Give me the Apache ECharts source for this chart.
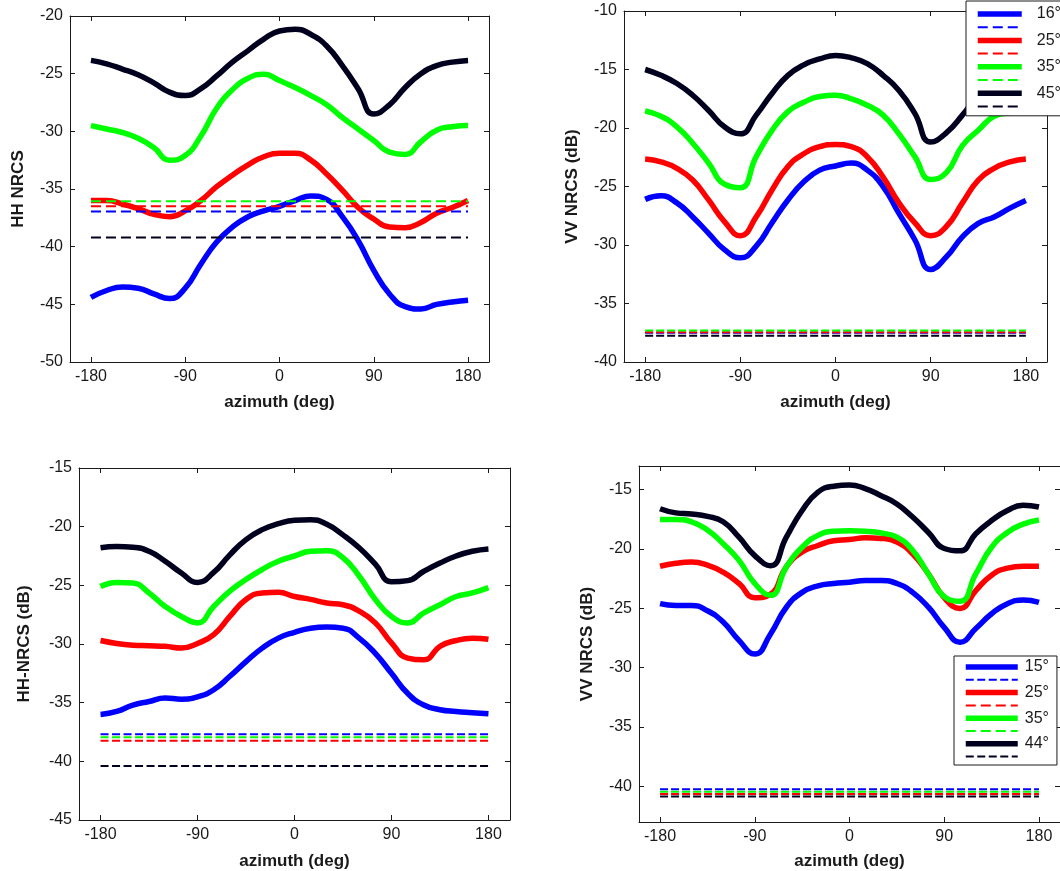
<!DOCTYPE html>
<html>
<head>
<meta charset="utf-8">
<script src="https://cdn.jsdelivr.net/npm/echarts@6/dist/echarts.min.js"></script>
<style>
* {margin: 0; padding: 0;}
#main {width: 1060px; height: 871px; background: #fff;}
</style>
</head>
<body>
<div id="main"></div>
<script>
// azimuth samples, deg
const AZIMUTH = [-180, -165, -150, -135, -120, -105, -90, -75, -60, -45, -30, -15,
    0, 15, 30, 45, 60, 75, 90, 105, 120, 135, 150, 165, 180];
const X_TICKS = [-180, -90, 0, 90, 180];

// top-left: HH NRCS
const HH_A_16 = [-44.4, -43.8, -43.5, -43.6, -44.1, -44.5, -43.6, -41.5, -39.6, -38.3, -37.4, -36.9,
    -36.5, -36.0, -35.6, -35.9, -37.4, -39.45, -42.05, -44.1, -45.2, -45.4, -45.0, -44.8, -44.65];
const HH_A_25 = [-36.0, -36.0, -36.3, -36.7, -37.2, -37.4, -36.9, -36.0, -34.8, -33.8, -32.9, -32.2,
    -31.9, -31.9, -32.5, -33.7, -35.1, -36.6, -37.6, -38.3, -38.35, -37.9, -37.1, -36.6, -36.0];
const HH_A_35 = [-29.5, -29.8, -30.1, -30.6, -31.4, -32.5, -32.1, -30.4, -28.0, -26.4, -25.4, -25.05,
    -25.6, -26.2, -26.9, -27.7, -28.8, -29.8, -30.8, -31.8, -32.0, -30.9, -29.9, -29.6, -29.5];
const HH_A_45 = [-23.85, -24.15, -24.6, -25.1, -25.8, -26.6, -26.9, -26.3, -25.2, -24.0, -23.0, -22.0,
    -21.3, -21.15, -21.6, -22.6, -24.3, -26.3, -28.5, -27.7, -26.2, -25.0, -24.3, -24.0, -23.85];
const HH_A_REF = [-36.95, -36.5, -36.07, -39.2];

// top-right: VV NRCS (dB)
const VV_A_16 = [-26.1, -25.8, -26.4, -27.6, -29.0, -30.4, -31.1, -30.1, -28.1, -26.15, -24.6, -23.6,
    -23.25, -23.0, -23.6, -25.0, -27.3, -29.55, -32.1, -31.0, -29.3, -28.15, -27.6, -26.85, -26.2];
const VV_A_25 = [-22.65, -22.9, -23.45, -24.45, -26.15, -28.0, -29.2, -27.6, -25.3, -23.3, -22.2, -21.6,
    -21.4, -21.6, -22.45, -24.2, -26.4, -28.1, -29.2, -28.4, -26.4, -24.45, -23.45, -22.9, -22.65];
const VV_A_35 = [-18.55, -19.0, -19.9, -21.3, -23.0, -24.8, -25.1, -22.45, -20.2, -18.6, -17.8, -17.3,
    -17.2, -17.5, -18.05, -18.9, -20.5, -22.45, -24.4, -23.8, -21.5, -20.2, -19.0, -18.7, -18.5];
const VV_A_45 = [-15.0, -15.5, -16.2, -17.2, -18.5, -19.9, -20.5, -18.9, -17.05, -15.5, -14.6, -14.1,
    -13.8, -14.0, -14.5, -15.5, -16.8, -18.75, -21.2, -20.4, -18.9, -17.2, -16.1, -15.4, -15.0];
const VV_A_REF = [-37.5, -37.45, -37.3, -37.75];

// bottom-left: HH-NRCS (dB)
const HH_B_15 = [-36.0, -35.75, -35.2, -34.9, -34.6, -34.7, -34.5, -33.9, -32.75, -31.5, -30.35, -29.5,
    -29.0, -28.65, -28.55, -28.65, -29.5, -30.8, -32.5, -34.2, -35.2, -35.6, -35.75, -35.85, -35.95];
const HH_B_25 = [-29.7, -29.95, -30.1, -30.15, -30.2, -30.35, -29.95, -29.2, -27.65, -26.2, -25.65, -25.6,
    -25.95, -26.2, -26.5, -26.65, -27.2, -28.2, -29.9, -31.2, -31.35, -30.2, -29.7, -29.5, -29.6];
const HH_B_35 = [-25.1, -24.75, -24.8, -25.65, -26.8, -27.65, -28.2, -26.8, -25.5, -24.5, -23.65, -22.95,
    -22.5, -22.1, -22.05, -22.65, -24.2, -26.2, -27.65, -28.2, -27.35, -26.65, -25.95, -25.65, -25.2];
const HH_B_44 = [-21.8, -21.7, -21.75, -22.1, -22.95, -23.95, -24.75, -23.9, -22.4, -21.1, -20.25, -19.75,
    -19.45, -19.4, -19.8, -20.7, -21.8, -23.2, -24.7, -24.6, -23.8, -23.1, -22.5, -22.1, -21.9];
const HH_B_REF = [-37.7, -38.25, -37.95, -40.4];

// bottom-right: VV NRCS (dB)
const VV_B_15 = [-24.6, -24.75, -24.75, -25.2, -26.15, -27.7, -28.85, -27.15, -24.9, -23.65, -23.1, -22.9,
    -22.8, -22.65, -22.65, -22.9, -23.65, -24.9, -26.6, -27.85, -26.7, -25.45, -24.6, -24.3, -24.5];
const VV_B_25 = [-21.45, -21.2, -21.1, -21.35, -21.95, -22.9, -24.1, -23.8, -21.5, -20.25, -19.7, -19.3,
    -19.2, -19.05, -19.1, -19.4, -20.4, -22.1, -24.1, -25.0, -23.5, -22.2, -21.6, -21.45, -21.45];
const VV_B_35 = [-17.5, -17.5, -17.7, -18.4, -19.55, -20.95, -22.9, -23.9, -21.5, -19.85, -18.85, -18.5,
    -18.45, -18.5, -18.65, -19.0, -20.1, -22.1, -24.0, -24.4, -22.1, -19.85, -18.6, -17.9, -17.55];
const VV_B_44 = [-16.6, -16.95, -17.05, -17.25, -17.7, -19.0, -20.55, -21.4, -19.0, -16.75, -15.2, -14.7,
    -14.6, -14.9, -15.5, -16.2, -17.3, -18.6, -19.95, -20.15, -18.7, -17.6, -16.75, -16.3, -16.45];
const VV_B_REF = [-40.25, -40.65, -40.45, -40.85];

const LABELS_A = ['16°', '25°', '35°', '45°'];
const LABELS_B = ['15°', '25°', '35°', '44°'];

const COLORS = ['#0000ff', '#ff0000', '#00ff00', '#00001e'];
const FONT = 'Liberation Sans, Arial, sans-serif';
const INK = '#1a1a1a';

const PANELS = [
    {
        grid: {left: 70, top: 16, width: 419, height: 346},
        yMin: -50, yMax: -20, yTicks: [-50, -45, -40, -35, -30, -25, -20],
        yName: 'HH NRCS', yGap: 43, xGap: 32, dash: [10, 5],
        labels: LABELS_A, solid: [HH_A_16, HH_A_25, HH_A_35, HH_A_45], ref: HH_A_REF
    },
    {
        grid: {left: 624, top: 11, width: 423, height: 351},
        yMin: -40, yMax: -10, yTicks: [-40, -35, -30, -25, -20, -15, -10],
        yName: 'VV NRCS (dB)', yGap: 43, xGap: 32, dash: [8, 3],
        labels: LABELS_A, solid: [VV_A_16, VV_A_25, VV_A_35, VV_A_45], ref: VV_A_REF
    },
    {
        grid: {left: 79, top: 468, width: 431, height: 352},
        yMin: -45, yMax: -15, yTicks: [-45, -40, -35, -30, -25, -20, -15],
        yName: 'HH-NRCS (dB)', yGap: 46, xGap: 33, dash: [8, 3.5],
        labels: LABELS_B, solid: [HH_B_15, HH_B_25, HH_B_35, HH_B_44], ref: HH_B_REF
    },
    {
        grid: {left: 639, top: 466, width: 422, height: 356},
        yMin: -43, yMax: -13, yTicks: [-40, -35, -30, -25, -20, -15],
        yName: 'VV NRCS (dB)', yGap: 43, xGap: 31, dash: [8, 3],
        labels: LABELS_B, solid: [VV_B_15, VV_B_25, VV_B_35, VV_B_44], ref: VV_B_REF
    }
];

const grids = [];
const xAxes = [];
const yAxes = [];
const series = [];

function tickAxis(extra) {
    return Object.assign({
        type: 'value',
        splitLine: {show: false},
        axisLine: {show: true, onZero: false, lineStyle: {color: INK, width: 1}},
        axisTick: {show: true, inside: true, length: 5, lineStyle: {color: INK}},
        axisLabel: {show: false}
    }, extra);
}

PANELS.forEach((p, idx) => {
    grids.push(p.grid);

    // bottom axis with labels, top axis only for the box + ticks
    xAxes.push(tickAxis({
        gridIndex: idx, position: 'bottom', min: -200, max: 200,
        axisTick: {show: true, inside: true, length: 5, customValues: X_TICKS, lineStyle: {color: INK}},
        axisLabel: {show: true, customValues: X_TICKS, fontSize: 16, color: INK, fontFamily: FONT, margin: 7},
        name: 'azimuth (deg)', nameLocation: 'middle', nameGap: p.xGap,
        nameTextStyle: {fontSize: 17, fontWeight: 'bold', color: INK, fontFamily: FONT}
    }));
    xAxes.push(tickAxis({
        gridIndex: idx, position: 'top', min: -200, max: 200,
        axisTick: {show: true, inside: true, length: 5, customValues: X_TICKS, lineStyle: {color: INK}}
    }));

    yAxes.push(tickAxis({
        gridIndex: idx, position: 'left', min: p.yMin, max: p.yMax,
        axisTick: {show: true, inside: true, length: 5, customValues: p.yTicks, lineStyle: {color: INK}},
        axisLabel: {show: true, customValues: p.yTicks, fontSize: 16, color: INK, fontFamily: FONT, margin: 7},
        name: p.yName, nameLocation: 'middle', nameGap: p.yGap,
        nameTextStyle: {fontSize: 17, fontWeight: 'bold', color: INK, fontFamily: FONT}
    }));
    yAxes.push(tickAxis({
        gridIndex: idx, position: 'right', min: p.yMin, max: p.yMax,
        axisTick: {show: true, inside: true, length: 5, customValues: p.yTicks, lineStyle: {color: INK}}
    }));

    p.solid.forEach((vals, i) => {
        series.push({
            name: p.labels[i],
            type: 'line',
            xAxisIndex: idx * 2,
            yAxisIndex: idx * 2,
            data: AZIMUTH.map((a, k) => [a, vals[k]]),
            smooth: 0.5,
            symbol: 'none',
            itemStyle: {color: COLORS[i]},
            lineStyle: {color: COLORS[i], width: 5.5}
        });
    });
    p.ref.forEach((v, i) => {
        series.push({
            name: p.labels[i] + ' ref',
            type: 'line',
            xAxisIndex: idx * 2,
            yAxisIndex: idx * 2,
            data: [[-180, v], [180, v]],
            symbol: 'none',
            itemStyle: {color: COLORS[i]},
            lineStyle: {color: COLORS[i], width: 2, type: p.dash}
        });
    });
});

function legendNames(labels) {
    const names = [];
    labels.forEach(l => {
        names.push(l);
        names.push(l + ' ref');
    });
    return names;
}

function legend(labels, pos) {
    return Object.assign({
        data: legendNames(labels),
        orient: 'vertical',
        itemHeight: 11,
        backgroundColor: '#fff',
        borderColor: INK,
        borderWidth: 1,
        borderRadius: 0,
        selectedMode: false,
        // line sample only, no marker dot
        itemStyle: {opacity: 0},
        lineStyle: {width: 'inherit'},
        formatter: name => (name.indexOf('ref') >= 0 ? '' : name)
    }, pos);
}

const chart = echarts.init(document.getElementById('main'));
chart.setOption({
    animation: false,
    backgroundColor: '#fff',
    grid: grids,
    xAxis: xAxes,
    yAxis: yAxes,
    legend: [
        legend(LABELS_A, {left: 966, top: 1, itemWidth: 44, itemGap: 0.8, padding: [5, 8, 5, 9],
            textStyle: {fontSize: 16, color: INK, fontFamily: FONT, lineHeight: 11, padding: [0, 0, 0, 10]}}),
        legend(LABELS_B, {left: 954, top: 656, itemWidth: 52, itemGap: 0.4, padding: [3, 8, 4, 9],
            textStyle: {fontSize: 16, color: INK, fontFamily: FONT, lineHeight: 11, padding: [0, 0, 0, 2]}})
    ],
    series: series
});
</script>
</body>
</html>
